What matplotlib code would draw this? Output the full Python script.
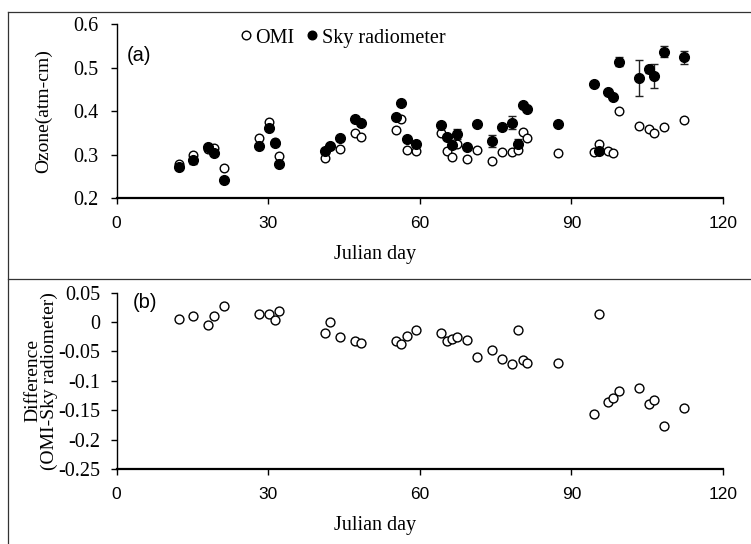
import matplotlib
matplotlib.use("Agg")
import matplotlib.pyplot as plt
from matplotlib.lines import Line2D

# ---------------- data ----------------
days = [12.4, 15.2, 18.2, 19.3, 21.3, 28.2, 30.2, 31.3, 32.1, 41.2,
        42.2, 44.3, 47.2, 48.3, 55.3, 56.3, 57.4, 59.3, 64.2, 65.3,
        66.4, 67.4, 69.4, 71.3, 74.3, 76.3, 78.2, 79.4, 80.4, 81.3,
        87.3, 94.4, 95.4, 97.3, 98.3, 99.5, 103.4, 105.4, 106.4, 108.3,
        112.3]
omi = [0.280, 0.300, 0.314, 0.315, 0.270, 0.338, 0.376, 0.329, 0.297, 0.292,
       0.320, 0.313, 0.351, 0.340, 0.357, 0.383, 0.311, 0.309, 0.349, 0.309,
       0.294, 0.324, 0.290, 0.311, 0.286, 0.306, 0.306, 0.311, 0.353, 0.338,
       0.303, 0.307, 0.325, 0.309, 0.303, 0.401, 0.366, 0.359, 0.351, 0.363,
       0.380]
sky = [0.273, 0.288, 0.319, 0.305, 0.242, 0.320, 0.361, 0.326, 0.278, 0.309,
       0.320, 0.339, 0.382, 0.372, 0.388, 0.418, 0.336, 0.325, 0.368, 0.341,
       0.323, 0.348, 0.319, 0.370, 0.332, 0.365, 0.374, 0.324, 0.415, 0.405,
       0.370, 0.462, 0.309, 0.445, 0.432, 0.514, 0.476, 0.497, 0.481, 0.537,
       0.524]
sky_err = [0.005, 0.010, 0.0, 0.0, 0.0, 0.0, 0.0, 0.0, 0.0, 0.0,
           0.0, 0.0, 0.0, 0.0, 0.0, 0.0, 0.0, 0.0, 0.0, 0.0,
           0.006, 0.011, 0.0, 0.0, 0.013, 0.0, 0.015, 0.013, 0.0, 0.0,
           0.0, 0.0, 0.0, 0.0, 0.0, 0.011, 0.041, 0.008, 0.028, 0.013,
           0.015]
diff = [0.006, 0.011, -0.005, 0.011, 0.028, 0.014, 0.014, 0.003, 0.019, -0.018,
        0.000, -0.026, -0.032, -0.036, -0.032, -0.037, -0.024, -0.014, -0.019, -0.032,
        -0.029, -0.026, -0.030, -0.060, -0.047, -0.062, -0.071, -0.013, -0.064, -0.070,
        -0.069, -0.156, 0.014, -0.136, -0.129, -0.118, -0.112, -0.140, -0.132, -0.176,
        -0.147]

x_ticks = [0, 30, 60, 90, 120]
top_yticks = [0.2, 0.3, 0.4, 0.5, 0.6]
top_ylabels = ["0.2", "0.3", "0.4", "0.5", "0.6"]
bot_yticks = [-0.25, -0.2, -0.15, -0.1, -0.05, 0.0, 0.05]
bot_ylabels = ["-0.25", "-0.2", "-0.15", "-0.1", "-0.05", "0", "0.05"]

SERIF = "Liberation Serif"
SANS = ["Liberation Sans Narrow", "Liberation Sans", "DejaVu Sans"]

W, H = 751, 544
fig = plt.figure(figsize=(W / 100, H / 100), dpi=100)


def fx(px):
    return px / W


def fy(py):
    return 1 - py / H


AX_L, AX_R = 116.5, 723.0
XLAB_CX = (375 - AX_L) / (AX_R - AX_L)


def style_axes(ax, ypad):
    ax.spines["top"].set_visible(False)
    ax.spines["right"].set_visible(False)
    ax.spines["bottom"].set_linewidth(1.6)
    ax.spines["left"].set_linewidth(1.0)
    ax.tick_params(axis="y", direction="out", length=4.3, width=1.0, pad=ypad)
    ax.tick_params(axis="x", direction="out", length=4.5, width=1.0, pad=8.5)
    ax.set_xlim(0, 120)
    ax.set_xticks(x_ticks)
    ax.set_xticklabels([str(t) for t in x_ticks], fontfamily=SANS, fontsize=12.5)


# ---------- top panel ----------
top_b, top_t = 198.3, 24.3
ax1 = fig.add_axes([fx(AX_L), fy(top_b), fx(AX_R - AX_L), (top_b - top_t) / H])
ax1.set_ylim(0.2, 0.6)
ax1.set_yticks(top_yticks)
ax1.set_yticklabels(top_ylabels, fontfamily=SERIF, fontsize=14.5)
style_axes(ax1, ypad=9)
ax1.errorbar(days, sky, yerr=sky_err, fmt="none", ecolor="#222222",
             elinewidth=1.0, capsize=3, capthick=1.0, zorder=2)
ax1.plot(days, omi, linestyle="none", marker="o", markersize=6.2,
         markerfacecolor="white", markeredgecolor="black", markeredgewidth=1.0, zorder=3)
ax1.plot(days, sky, linestyle="none", marker="o", markersize=7,
         markerfacecolor="black", markeredgecolor="black", zorder=4)
ax1.set_xlabel("Julian day", fontfamily=SERIF, fontsize=14.5, va="baseline")
ax1.xaxis.set_label_coords(XLAB_CX, (top_b - 259) / (top_b - top_t))
ax1.set_ylabel("Ozone(atm-cm)", fontfamily=SERIF, fontsize=14)
ax1.yaxis.set_label_coords((52 - AX_L) / (AX_R - AX_L), 0.5)
ax1.text((127 - AX_L) / (AX_R - AX_L), (top_b - 56) / (top_b - top_t), "(a)",
         transform=ax1.transAxes, fontfamily=SANS, fontsize=14.5,
         va="center", ha="left")
handles = [Line2D([], [], linestyle="none", marker="o", markersize=6.2,
                  markerfacecolor="white", markeredgecolor="black"),
           Line2D([], [], linestyle="none", marker="o", markersize=6.2,
                  markerfacecolor="black", markeredgecolor="black")]
ax1.legend(handles, ["OMI", "Sky radiometer"], ncol=2, frameon=False,
           loc="center left",
           bbox_to_anchor=((239.5 - AX_L) / (AX_R - AX_L), (top_b - 38) / (top_b - top_t)),
           borderpad=0, borderaxespad=0,
           handlelength=0.6, handletextpad=0.2, columnspacing=0.55,
           prop={"family": SERIF, "size": 14.5})

# ---------- bottom panel ----------
bot_b, bot_t = 469.0, 292.7
ax2 = fig.add_axes([fx(AX_L), fy(bot_b), fx(AX_R - AX_L), (bot_b - bot_t) / H])
ax2.set_ylim(-0.25, 0.05)
ax2.set_yticks(bot_yticks)
ax2.set_yticklabels(bot_ylabels, fontfamily=SERIF, fontsize=14.5)
style_axes(ax2, ypad=7.5)
ax2.plot(days, diff, linestyle="none", marker="o", markersize=6.4,
         markerfacecolor="white", markeredgecolor="black", markeredgewidth=1.0)
ax2.set_xlabel("Julian day", fontfamily=SERIF, fontsize=14.5, va="baseline")
ax2.xaxis.set_label_coords(XLAB_CX, (bot_b - 530) / (bot_b - bot_t))
ax2.set_ylabel("Difference\n(OMI-Sky radiometer)", fontfamily=SERIF,
               fontsize=14, linespacing=0.95)
ax2.yaxis.set_label_coords((58 - AX_L) / (AX_R - AX_L), 0.5)
ax2.text((133 - AX_L) / (AX_R - AX_L), (bot_b - 302) / (bot_b - bot_t), "(b)",
         transform=ax2.transAxes, fontfamily=SANS, fontsize=14.5,
         va="center", ha="left")

# ---------- panel frame lines ----------
frame_kw = dict(color="#333333", linewidth=0.9, transform=fig.transFigure)
fig.add_artist(Line2D([fx(8), 1], [fy(12), fy(12)], **frame_kw))
fig.add_artist(Line2D([fx(8), 1], [fy(279), fy(279)], **frame_kw))
fig.add_artist(Line2D([fx(8), fx(8)], [fy(12), 0], **frame_kw))

fig.savefig("out.png", dpi=100)
